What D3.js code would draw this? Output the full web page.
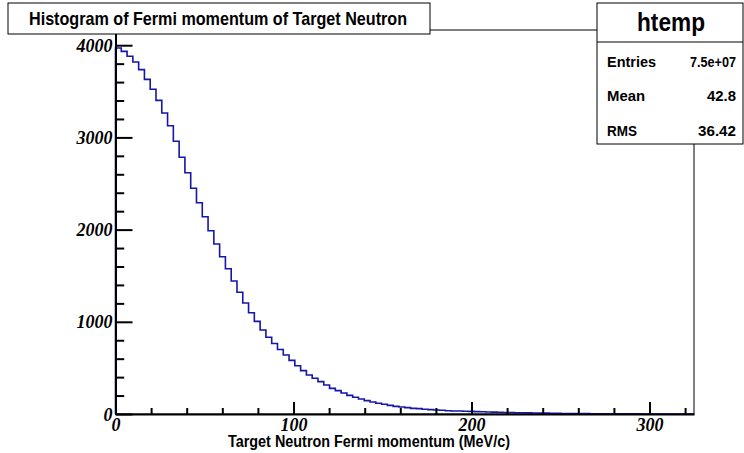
<!DOCTYPE html>
<html>
<head>
<meta charset="utf-8">
<script src="https://cdn.jsdelivr.net/npm/d3@7/dist/d3.min.js"></script>
<style>
html,body{margin:0;padding:0;background:#fff;}
svg{display:block;}
.sans{font-family:"Liberation Sans Narrow","Liberation Sans",Arial,sans-serif;font-weight:bold;}
.serif{font-family:"Liberation Serif","Times New Roman",serif;font-weight:bold;font-style:italic;}
</style>
</head>
<body>
<svg id="c" width="744" height="453"></svg>
<script>
// ---- data ----
const histTitle = "Histogram of Fermi momentum of Target Neutron";
const xTitle = "Target Neutron Fermi momentum (MeV/c)";
const statsName = "htemp";
const statsLabels = ["Entries", "Mean", "RMS"];
const statsValues = ["7.5e+07", "42.8", "36.42"];
const xRange = [0, 325];
const yRange = [0, 4165];
const xMajorTicks = [0, 100, 200, 300];
const yMajorTicks = [0, 1000, 2000, 3000, 4000];
const xMinorStep = 20;
const yMinorStep = 200;
const counts = [
  3970, 3933, 3880, 3818, 3735, 3630, 3522, 3402, 3265, 3127,
  2958, 2784, 2617, 2448, 2292, 2140, 1988, 1844, 1706, 1576,
  1442, 1320, 1204, 1099, 1005, 911, 832, 765, 700, 640,
  582, 524, 470, 423, 387, 351, 315, 278, 253, 228,
  202, 181, 163, 145, 130, 116, 105, 94, 83, 76,
  69, 61, 58, 51, 47, 43, 40, 36, 33, 32,
  30, 28, 26, 24, 22, 20, 19, 17, 16, 14,
  13, 12, 11, 10, 9, 8, 7, 6, 5, 5,
  4, 4, 3, 3, 2, 2, 2, 1, 1, 1,
  1, 0, 0, 0, 0, 0, 0, 0, 0, 0
];

// ---- layout ----
const svg = d3.select("#c");
const F = {left: 115.5, right: 694, top: 30, bottom: 414};
const x = d3.scaleLinear().domain(xRange).range([F.left, F.right]);
const y = d3.scaleLinear().domain(yRange).range([F.bottom, F.top]);

// frame
svg.append("rect").attr("x", F.left).attr("y", F.top)
  .attr("width", F.right - F.left).attr("height", F.bottom - F.top)
  .attr("fill", "none").attr("stroke", "#000").attr("stroke-width", 1);

// histogram step path
const nb = counts.length;
const bw = (xRange[1] - xRange[0]) / nb;
let pts = [[x(xRange[0]), y(0)]];
counts.forEach((c, i) => {
  pts.push([x(xRange[0] + i * bw), y(c)]);
  pts.push([x(xRange[0] + (i + 1) * bw), y(c)]);
});
pts.push([x(xRange[1]), y(0)]);
svg.append("path").attr("d", d3.line()(pts))
  .attr("fill", "none").attr("stroke", "#1616a8").attr("stroke-width", 1.6)
  .attr("stroke-linejoin", "miter");

// minor tick values
const xMinor = d3.range(xRange[0], xRange[1], xMinorStep).filter(v => !xMajorTicks.includes(v));
const yMinor = d3.range(yRange[0], yRange[1], yMinorStep).filter(v => !yMajorTicks.includes(v));

// y axis
const gy = svg.append("g").attr("transform", `translate(${F.left},0)`);
gy.call(d3.axisLeft(y).tickValues(yMajorTicks).tickSize(-17).tickSizeOuter(0).tickPadding(3)
  .tickFormat(d3.format("d")));
gy.append("g").call(d3.axisLeft(y).tickValues(yMinor).tickSize(-8.7).tickSizeOuter(0).tickFormat(""))
  .select(".domain").remove();
gy.selectAll(".domain").attr("stroke-width", 2);
gy.selectAll(".tick line").attr("stroke-width", 2);
gy.selectAll(".tick text").attr("class", "serif").attr("font-size", 19).attr("fill", "#000")
  .each(function(d){ const s = String(d); d3.select(this).attr("textLength", s.length * 9).attr("lengthAdjust", "spacingAndGlyphs"); });

// x axis
const gx = svg.append("g").attr("transform", `translate(0,${F.bottom})`);
gx.call(d3.axisBottom(x).tickValues(xMajorTicks).tickSize(-12).tickSizeOuter(0).tickPadding(3)
  .tickFormat(d3.format("d")));
gx.append("g").call(d3.axisBottom(x).tickValues(xMinor).tickSize(-6).tickSizeOuter(0).tickFormat(""))
  .select(".domain").remove();
gx.selectAll(".domain").attr("stroke-width", 2);
gx.selectAll(".tick line").attr("stroke-width", 2);
gx.selectAll(".tick text").attr("class", "serif").attr("font-size", 19).attr("fill", "#000")
  .each(function(d){ const s = String(d); d3.select(this).attr("textLength", s.length * 9).attr("lengthAdjust", "spacingAndGlyphs"); });

// x axis title
svg.append("text").attr("class", "sans")
  .attr("x", 369).attr("y", 447)
  .attr("text-anchor", "middle").attr("font-size", 16)
  .attr("textLength", 282).attr("lengthAdjust", "spacingAndGlyphs")
  .text(xTitle);

// title box
svg.append("rect").attr("x", 8).attr("y", 3).attr("width", 422).attr("height", 31)
  .attr("fill", "#fff").attr("stroke", "#000").attr("stroke-width", 1);
svg.append("text").attr("class", "sans")
  .attr("x", 218).attr("y", 25).attr("text-anchor", "middle").attr("font-size", 19)
  .attr("textLength", 378).attr("lengthAdjust", "spacingAndGlyphs")
  .text(histTitle);

// stats box
const S = {x: 597, y: 3, w: 146, h: 141};
svg.append("rect").attr("x", S.x).attr("y", S.y).attr("width", S.w).attr("height", S.h)
  .attr("fill", "#fff").attr("stroke", "#000").attr("stroke-width", 1);
svg.append("line").attr("x1", S.x).attr("x2", S.x + S.w).attr("y1", 42).attr("y2", 42)
  .attr("stroke", "#000").attr("stroke-width", 1);
svg.append("text").attr("class", "sans").attr("x", 671).attr("y", 31)
  .attr("text-anchor", "middle").attr("font-size", 25)
  .attr("textLength", 68).attr("lengthAdjust", "spacingAndGlyphs").text(statsName);
const rowY = [67, 101, 136];
const labelW = [49, 38, 30];
const valueW = [46, 29, 38];
statsLabels.forEach((l, i) => {
  svg.append("text").attr("class", "sans").attr("x", 607).attr("y", rowY[i])
    .attr("font-size", 15).attr("textLength", labelW[i]).attr("lengthAdjust", "spacingAndGlyphs").text(l);
  svg.append("text").attr("class", "sans").attr("x", 736).attr("y", rowY[i])
    .attr("text-anchor", "end").attr("font-size", 15)
    .attr("textLength", valueW[i]).attr("lengthAdjust", "spacingAndGlyphs").text(statsValues[i]);
});
</script>
</body>
</html>
